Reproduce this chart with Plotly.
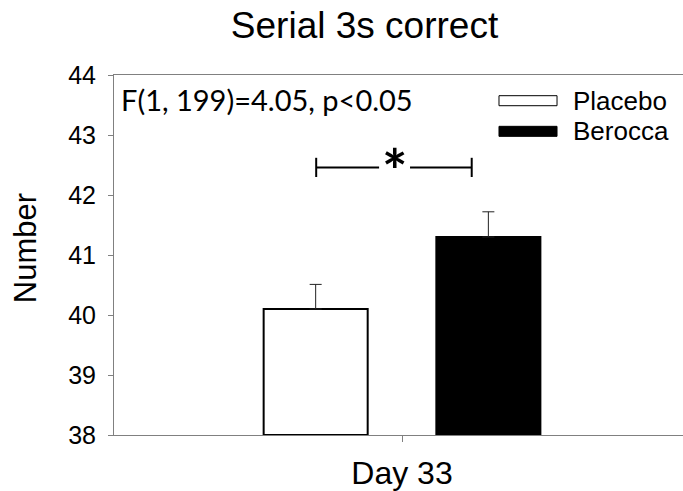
import plotly.graph_objects as go

# ---- data ----
categories = ["Day 33"]
groups = ["Placebo", "Berocca"]
means = [40.1, 41.3]
sem = [0.41, 0.42]
y_ticks = [38, 39, 40, 41, 42, 43, 44]
stat_text = "F(1, 199)=4.05, p<0.05"
title_text = "Serial 3s correct"
y_title = "Number"

fills = ["white", "black"]

fig = go.Figure()
for g, m, e, c in zip(groups, means, sem, fills):
    fig.add_trace(go.Bar(
        name=g, x=categories, y=[m - 38], base=38,
        marker=dict(color=c, line=dict(color="black", width=2)),
        error_y=dict(type="data", symmetric=False, array=[e], arrayminus=[0],
                     color="#222222", thickness=1, width=6),
        showlegend=False,
    ))

AX = "#808080"
fig.update_layout(
    width=683, height=491,
    margin=dict(l=114, r=0, t=75, b=56),
    plot_bgcolor="white", paper_bgcolor="white",
    barmode="group", bargap=0.4004, bargroupgap=0.3976,
    font=dict(family="Liberation Sans, Arial, sans-serif", color="black"),
    title=dict(text=title_text, x=0.5337, xanchor="center", y=0.949, yanchor="middle",
               xref="container", yref="container", font=dict(size=37)),
    xaxis=dict(range=[-0.5, 0.4878], showline=True, linecolor=AX, linewidth=1, mirror=True,
               ticks="outside", ticklen=6, tickcolor=AX, tickfont=dict(size=32),
               showgrid=False, zeroline=False, ticklabelstandoff=4),
    yaxis=dict(range=[38, 44], tickvals=y_ticks, showline=True, linecolor=AX, linewidth=1,
               ticks="outside", ticklen=5, tickcolor=AX, tickfont=dict(size=25),
               showgrid=False, zeroline=False, ticklabelstandoff=7),
)

# y-axis title
fig.add_annotation(text=y_title, xref="paper", yref="paper", x=-0.1564, y=0.519,
                   textangle=-90, showarrow=False, xanchor="center", yanchor="middle",
                   font=dict(size=31))

# statistics annotation
fig.add_annotation(text=stat_text, xref="paper", yref="paper", x=0.0088, y=0.931,
                   xanchor="left", yanchor="middle", showarrow=False,
                   font=dict(family="Lato, sans-serif", size=29))

# significance bracket
br_x0, br_x1, br_gap0, br_gap1, br_y, br_h = -0.149, 0.121, -0.0398, 0.0139, 42.46, 0.16
for xa, xb in [(br_x0, br_gap0), (br_gap1, br_x1)]:
    fig.add_shape(type="line", xref="x", yref="y", x0=xa, x1=xb, y0=br_y, y1=br_y,
                  line=dict(color="black", width=2))
for xv in [br_x0, br_x1]:
    fig.add_shape(type="line", xref="x", yref="y", x0=xv, x1=xv, y0=br_y - br_h, y1=br_y + br_h,
                  line=dict(color="black", width=2))
fig.add_annotation(text="<b>*</b>", xref="x", yref="y", x=(br_gap0 + br_gap1) / 2, y=br_y - 0.05,
                   showarrow=False, yanchor="middle",
                   font=dict(family="Lato, sans-serif", size=60, color="black"))

# custom legend with wide swatches
leg_y = [0.9286, 0.8435]
for g, c, yc in zip(groups, fills, leg_y):
    fig.add_shape(type="rect", xref="paper", yref="paper", x0=0.6766, x1=0.7786,
                  y0=yc - 0.0139, y1=yc + 0.0139, fillcolor=c,
                  line=dict(color="black", width=1))
    fig.add_annotation(text=g, xref="paper", yref="paper", x=0.8032, y=yc,
                       xanchor="left", yanchor="middle", showarrow=False,
                       font=dict(size=26))

fig.write_html("out.html")
